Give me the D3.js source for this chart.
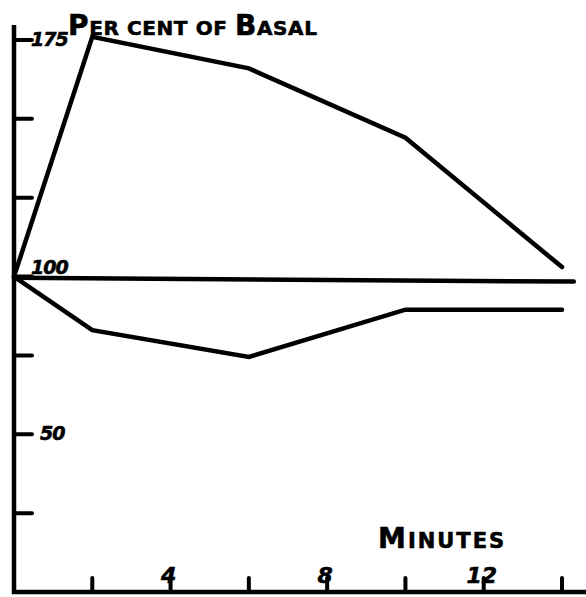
<!DOCTYPE html>
<html>
<head>
<meta charset="utf-8">
<script src="https://cdn.jsdelivr.net/npm/d3@7"></script>
<style>
  body { margin: 0; background: #fff; }
  text { font-family: "DejaVu Sans", sans-serif; font-weight: bold; fill: #000; stroke: #000; stroke-width: 0.6px; }
</style>
</head>
<body>
<div id="chart"></div>
<script>
// donnees
var minutes = [0, 2, 6, 10, 14];
var hausse = [100, 176, 166, 144, 103];
var baisse = [100, 83, 74.5, 89.5, 89.5];
var temoinMinutes = [0, 14.3];
var temoin = [99.6, 98.4];
var xTicks = [2, 4, 6, 8, 10, 12, 14];
var xLabels = [4, 8, 12];
var yTicks = [25, 50, 75, 100, 125, 150, 175];
var yLabels = [50, 100, 175];

var largeur = 586, hauteur = 597;
var svg = d3.select("#chart").append("svg")
  .attr("width", largeur)
  .attr("height", hauteur);

var x = d3.scaleLinear().domain([0, 14]).range([14, 562]);
var y = d3.scaleLinear().domain([0, 175]).range([592, 40]);

// axes dessines a la main
svg.append("line")
  .attr("x1", x(0)).attr("y1", 25).attr("x2", x(0)).attr("y2", y(0) + 2)
  .attr("stroke", "#000").attr("stroke-width", 4.5);
svg.append("line")
  .attr("x1", x(0) - 2).attr("y1", y(0)).attr("x2", 586).attr("y2", y(0))
  .attr("stroke", "#000").attr("stroke-width", 4.5);

svg.selectAll(".ytick").data(yTicks).enter().append("line")
  .attr("class", "ytick")
  .attr("x1", x(0)).attr("x2", x(0) + 18)
  .attr("y1", function(d){ return y(d); })
  .attr("y2", function(d){ return y(d); })
  .attr("stroke", "#000").attr("stroke-width", 4)
  .attr("stroke-linecap", "round");

svg.selectAll(".xtick").data(xTicks).enter().append("line")
  .attr("class", "xtick")
  .attr("x1", function(d){ return x(d); })
  .attr("x2", function(d){ return x(d); })
  .attr("y1", y(0)).attr("y2", y(0) - 14)
  .attr("stroke", "#000").attr("stroke-width", 4)
  .attr("stroke-linecap", "round");

svg.selectAll(".ylab").data(yLabels).enter().append("text")
  .attr("class", "ylab")
  .attr("x", function(d){ return d == 50 ? x(0) + 26 : x(0) + 17; })
  .attr("y", function(d){ return d == 100 ? y(d) - 3 : y(d) + 6; })
  .attr("font-size", 19)
  .attr("font-style", "italic")
  .attr("letter-spacing", -1)
  .text(function(d){ return d; });

svg.selectAll(".xlab").data(xLabels).enter().append("text")
  .attr("class", "xlab")
  .attr("x", function(d){ return x(d) - 2; })
  .attr("y", y(0) - 9)
  .attr("text-anchor", "middle")
  .attr("font-size", 22)
  .attr("font-style", "italic")
  .text(function(d){ return d; });

// titres en petites capitales
var titre = svg.append("text").attr("x", 68).attr("y", 35).attr("letter-spacing", 0.6);
titre.append("tspan").attr("font-size", 28).text("P");
titre.append("tspan").attr("font-size", 20).text("ER CENT OF ");
titre.append("tspan").attr("font-size", 28).text("B");
titre.append("tspan").attr("font-size", 20).text("ASAL");

var unite = svg.append("text").attr("x", 378).attr("y", 548).attr("letter-spacing", 2);
unite.append("tspan").attr("font-size", 28).text("M");
unite.append("tspan").attr("font-size", 21).text("INUTES");

// courbes
var ligne = d3.line()
  .x(function(d){ return x(d[0]); })
  .y(function(d){ return y(d[1]); });

function tracer(xs, ys) {
  svg.append("path")
    .datum(d3.zip(xs, ys))
    .attr("d", ligne)
    .attr("fill", "none")
    .attr("stroke", "#000")
    .attr("stroke-width", 4.5)
    .attr("stroke-linejoin", "miter")
    .attr("stroke-linecap", "round");
}
tracer(temoinMinutes, temoin);
tracer(minutes, hausse);
tracer(minutes, baisse);
</script>
</body>
</html>
